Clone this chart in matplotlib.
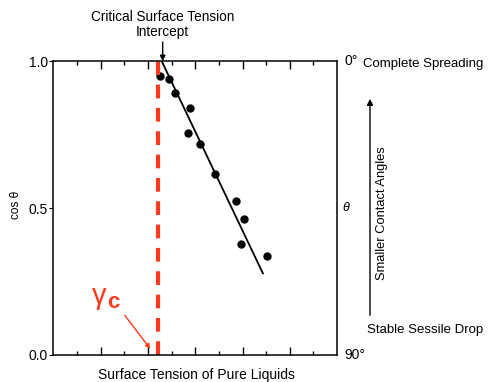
import matplotlib
matplotlib.use("Agg")
import matplotlib.pyplot as plt
import numpy as np

plt.rcParams['font.family'] = ['Liberation Sans', 'DejaVu Sans']

# data (surface tension in arbitrary axis units, cos theta)
surface_tension = [4.49, 4.90, 5.16, 5.78, 5.68, 6.21, 6.85, 7.72, 8.08, 7.92, 9.02]
cos_theta = [0.951, 0.939, 0.891, 0.841, 0.756, 0.719, 0.615, 0.524, 0.462, 0.378, 0.338]
fit_x = [4.58, 8.86]
fit_y = [1.0, 0.278]
gamma_c = 4.44
intercept_x = 4.62
y_ticks = [0.0, 0.5, 1.0]
y_tick_labels = ["0.0", "0.5", "1.0"]

fig = plt.figure(figsize=(4.89, 3.82), dpi=100)
ax = fig.add_axes([0.1094, 0.0707, 0.580, 0.769])
ax.set_xlim(0, 12)
ax.set_ylim(0, 1)

ax.plot(fit_x, fit_y, color='black', lw=1.3)
ax.plot(surface_tension, cos_theta, 'o', color='black', ms=5)
ax.plot([gamma_c, gamma_c], [0, 1], color='#ff3b1f', lw=3, dashes=(3.3, 2.3), clip_on=False)

ax.set_xticks(np.arange(2, 12, 2))
ax.set_xticks(np.arange(1, 12, 2), minor=True)
ax.tick_params(axis='x', which='both', direction='in', top=True, bottom=True,
               labelbottom=False, width=1)
ax.tick_params(axis='x', which='major', length=6)
ax.tick_params(axis='x', which='minor', length=3)
ax.set_yticks(y_ticks)
ax.set_yticklabels(y_tick_labels, fontsize=10)
ax.tick_params(axis='y', direction='out', length=3, pad=1)
for s in ax.spines.values():
    s.set_linewidth(1.1)

fig.text(16/489, 1 - 205/382, "cos θ", fontsize=8.5, rotation=90, va='center', ha='center')
fig.text(196/489, 1 - 375/382, "Surface Tension of Pure Liquids", fontsize=10,
         va='center', ha='center')

# top annotation
ax.annotate("Critical Surface Tension\nIntercept", xy=(intercept_x, 1.0), xycoords='data',
            xytext=(intercept_x, 1.075), textcoords='data', ha='center', va='bottom',
            fontsize=9.8, linespacing=1.1, annotation_clip=False,
            arrowprops=dict(arrowstyle='-|>', color='black', lw=1, mutation_scale=8,
                            shrinkA=0, shrinkB=0))

# right side labels
ax.text(1.027, 1.0, "0°", transform=ax.transAxes, fontsize=10, va='center', ha='left')
ax.text(1.027, 0.0, "90°", transform=ax.transAxes, fontsize=10, va='center', ha='left')
ax.text(1.02, 0.50, "θ", transform=ax.transAxes, fontsize=9, va='center', ha='left', style='italic')
fig.text(363/489, 1 - 64/382, "Complete Spreading", fontsize=9.5, va='center', ha='left')
fig.text(367/489, 1 - 330/382, "Stable Sessile Drop", fontsize=9.5, va='center', ha='left')
fig.add_artist(matplotlib.patches.FancyArrowPatch((370/489, 1 - 318/382), (370/489, 1 - 96/382),
               transform=fig.transFigure, arrowstyle='-|>', mutation_scale=9, color='black', lw=1))
fig.text(382/489, 1 - 213/382, "Smaller Contact Angles", fontsize=9.3, rotation=90,
         va='center', ha='center')

# gamma_c label
fig.text(99/489, 1 - 296/382, "γ", fontsize=21, color='#ff3b1f', va='center', ha='center')
fig.text(113/489, 1 - 303/382, "c", fontsize=16, color='#ff3b1f', va='center', ha='center',
         fontweight='bold')
fig.add_artist(matplotlib.patches.FancyArrowPatch((123/489, 1 - 313/382), (152/489, 1 - 351/382),
               transform=fig.transFigure, arrowstyle='-|>', mutation_scale=7, color='#ff3b1f', lw=1))

fig.savefig("out.png", dpi=100)
